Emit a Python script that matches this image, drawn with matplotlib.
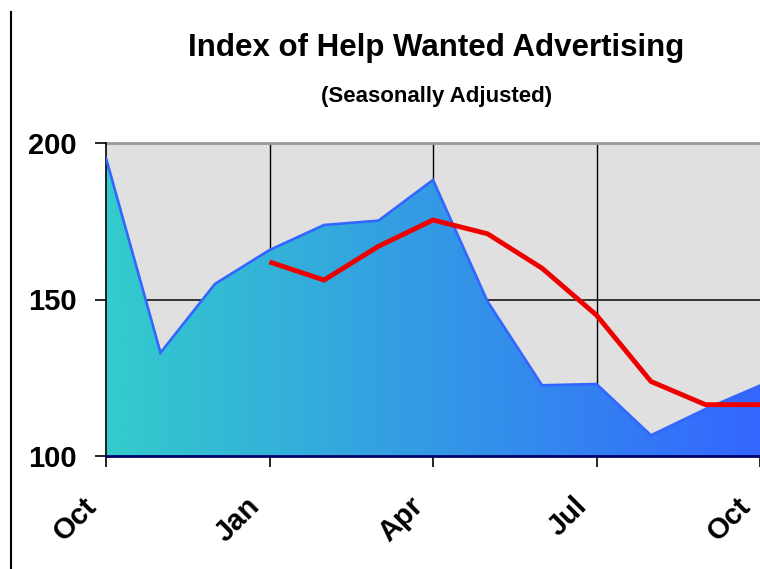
import numpy as np
import matplotlib
matplotlib.use("Agg")
import matplotlib.pyplot as plt
from matplotlib.colors import LinearSegmentedColormap
from matplotlib.lines import Line2D
from matplotlib.transforms import ScaledTranslation

plt.rcParams['font.family'] = ['Liberation Sans', 'DejaVu Sans']

# Monthly index values, Oct through the following Oct
months = list(range(13))
help_wanted = [195.2, 133.0, 155.0, 165.8, 173.8, 175.2, 188.2,
               149.4, 122.6, 123.0, 106.6, 115.0, 122.5]

# Moving-average line, Jan through Oct
trend_months = list(range(3, 13))
trend = [162.0, 156.2, 167.0, 175.4, 171.0, 160.0, 145.0, 123.8, 116.4, 116.4]

tick_pos = [0, 3, 6, 9, 12]
tick_labels = ['Oct', 'Jan', 'Apr', 'Jul', 'Oct']
y_ticks = [100, 150, 200]

fig = plt.figure(figsize=(7.6, 5.69), dpi=100)
ax = fig.add_axes([106 / 760, 113 / 569, 654 / 760, 313 / 569])
ax.set_facecolor('#e0e0e0')
ax.set_xlim(0, 12)
ax.set_ylim(100, 200)

# Gradient-filled area, clipped to the series outline
poly = ax.fill_between(months, help_wanted, 100, color='none', lw=0)
cmap = LinearSegmentedColormap.from_list('tealblue', ['#33cccc', '#3366ff'])
grad = np.linspace(0, 1, 256).reshape(1, -1)
img = ax.imshow(grad, extent=[0, 12, 100, 200], aspect='auto', cmap=cmap,
                origin='lower', zorder=2)
path = poly.get_paths()[0]
img.set_clip_path(path, transform=ax.transData)
ax.plot(months, help_wanted, color='#3366ff', lw=1.9, zorder=3,
        solid_joinstyle='miter')

# Grid
for x in [3, 6, 9]:
    ax.axvline(x, color='black', lw=1.0, zorder=1)
ax.axhline(150, color='#333333', lw=1.4, zorder=1)
ax.axhline(200, color='#999999', lw=2.0, zorder=1, clip_on=False)

ax.plot(trend_months, trend, color='#ee0000', lw=3.5, zorder=4,
        solid_capstyle='butt')

for s in ['top', 'right']:
    ax.spines[s].set_visible(False)
ax.spines['left'].set_color('black')
ax.spines['left'].set_linewidth(1.2)
ax.spines['bottom'].set_color('#000066')
ax.spines['bottom'].set_linewidth(2.0)
ax.spines['bottom'].set_zorder(5)

ax.set_yticks(y_ticks)
ax.set_yticklabels([str(v) for v in y_ticks], fontsize=21, fontweight='bold')
ax.set_xticks(tick_pos)
ax.set_xticklabels(tick_labels, fontsize=21, fontweight='bold', rotation=45,
                   ha='right', va='center', rotation_mode='anchor')
ax.tick_params(axis='y', length=8, width=1.2, pad=13, colors='black')
ax.tick_params(axis='x', length=8, width=1.2, pad=0, colors='black')
shift = ScaledTranslation(-10 / 72, -25 / 72, fig.dpi_scale_trans)
for lab in ax.get_xticklabels():
    lab.set_transform(lab.get_transform() + shift)

fig.text(0.574, 0.916, 'Index of Help Wanted Advertising', ha='center',
         va='center', fontsize=22.5, fontweight='bold')
fig.text(0.574, 0.830, '(Seasonally Adjusted)', ha='center', va='center',
         fontsize=16, fontweight='bold')

fig.add_artist(Line2D([10.5 / 760, 10.5 / 760], [0, 1 - 12 / 569],
                      color='black', lw=1.5, transform=fig.transFigure))

fig.savefig('out.png', dpi=100)
